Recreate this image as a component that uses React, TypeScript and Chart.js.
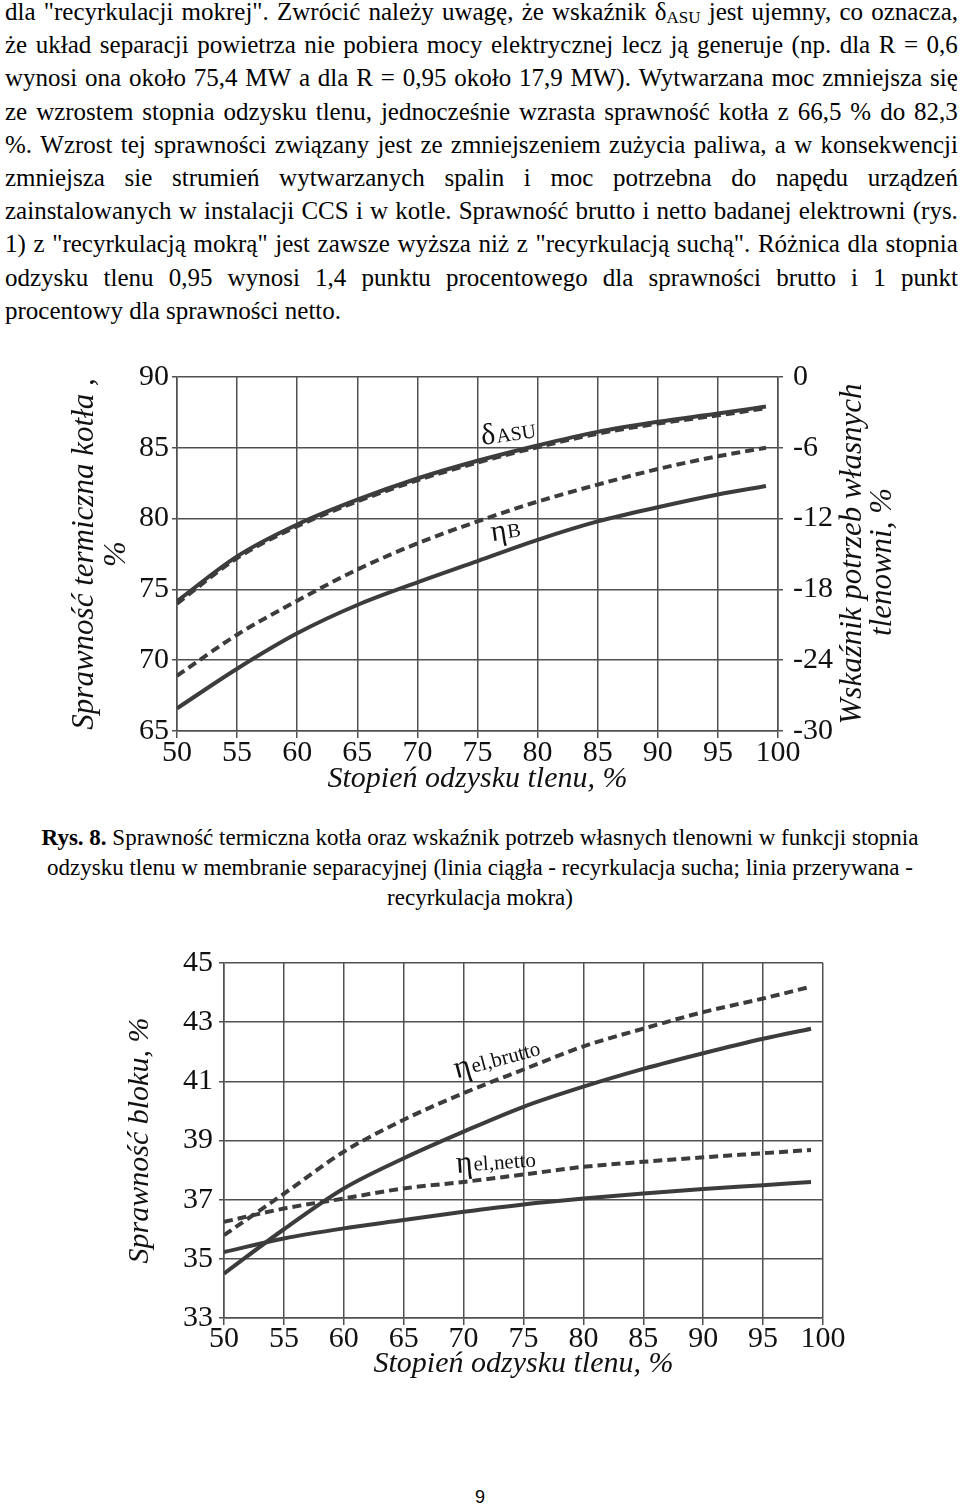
import React, { useEffect, useRef } from 'react';
import { Chart, registerables } from 'chart.js';

Chart.register(...registerables);

const SERIF = "'Liberation Serif', 'Times New Roman', serif";

// ---------- Chart 1 data (Rys. 8) ----------
const recovery = [50, 55, 60, 65, 70, 75, 80, 85, 90, 95, 99];
const xTickValues = [50, 55, 60, 65, 70, 75, 80, 85, 90, 95, 100];
const boilerTicks = [65, 70, 75, 80, 85, 90];
const asuTicks = [-30, -24, -18, -12, -6, 0];
const deltaAsuDry = [-19.0, -15.2, -12.5, -10.4, -8.6, -7.1, -5.8, -4.65, -3.8, -3.1, -2.5];
const deltaAsuWet = [-19.2, -15.35, -12.65, -10.55, -8.75, -7.25, -5.95, -4.8, -3.95, -3.25, -2.65];
const etaBDry = [66.6, 69.4, 71.9, 73.9, 75.5, 77.0, 78.5, 79.8, 80.8, 81.7, 82.3];
const etaBWet = [68.9, 71.8, 74.2, 76.4, 78.25, 79.8, 81.2, 82.4, 83.5, 84.4, 85.0];

// ---------- Chart 2 data ----------
const blockTicks = [33, 35, 37, 39, 41, 43, 45];
const bruttoWet = [35.8, 37.2, 38.62, 39.7, 40.6, 41.4, 42.18, 42.78, 43.34, 43.8, 44.2];
const bruttoDry = [34.5, 36.0, 37.38, 38.4, 39.3, 40.14, 40.82, 41.42, 41.95, 42.44, 42.78];
const nettoWet = [36.25, 36.7, 37.04, 37.38, 37.6, 37.85, 38.11, 38.28, 38.43, 38.57, 38.68];
const nettoDry = [35.23, 35.69, 36.03, 36.31, 36.59, 36.84, 37.04, 37.21, 37.36, 37.49, 37.6];

const bodyLines = [
  'dla "recyrkulacji mokrej". Zwrócić należy uwagę, że wskaźnik δ_ASU jest ujemny, co oznacza,',
  'że układ separacji powietrza nie pobiera mocy elektrycznej lecz ją generuje (np. dla R = 0,6',
  'wynosi ona około 75,4 MW a dla R = 0,95 około 17,9 MW). Wytwarzana moc zmniejsza się',
  'ze wzrostem stopnia odzysku tlenu, jednocześnie wzrasta sprawność kotła z 66,5 % do 82,3',
  '%. Wzrost tej sprawności związany jest ze zmniejszeniem zużycia paliwa, a w konsekwencji',
  'zmniejsza sie strumień wytwarzanych spalin i moc potrzebna do napędu urządzeń',
  'zainstalowanych w instalacji CCS i w kotle. Sprawność brutto i netto badanej elektrowni (rys.',
  '1) z "recyrkulacją mokrą" jest zawsze wyższa niż z "recyrkulacją suchą". Różnica dla stopnia',
  'odzysku tlenu 0,95 wynosi 1,4 punktu procentowego dla sprawności brutto i 1 punkt',
];
const bodyLastLine = 'procentowy dla sprawności netto.';

const captionLines = [
  'Sprawność termiczna kotła oraz wskaźnik potrzeb własnych tlenowni w funkcji stopnia',
  'odzysku tlenu w membranie separacyjnej (linia ciągła - recyrkulacja sucha; linia przerywana -',
  'recyrkulacja mokra)',
];

const LINE_COLOR = '#3c3c3c';
const GRID_COLOR = '#505050';

const pts = (ys: number[]) => recovery.map((x, i) => ({ x, y: ys[i] }));

const labelPlugin = {
  id: 'curveLabels',
  afterDatasetsDraw(chart: any, _args: any, opts: any) {
    const ctx = chart.ctx;
    (opts.items || []).forEach((it: any) => {
      const px = chart.scales.x.getPixelForValue(it.x);
      const py = chart.scales[it.axis || 'y'].getPixelForValue(it.y);
      ctx.save();
      ctx.translate(px, py);
      ctx.rotate((it.rot * Math.PI) / 180);
      ctx.fillStyle = '#111';
      ctx.textAlign = 'left';
      ctx.textBaseline = 'alphabetic';
      ctx.font = `${it.size}px ${SERIF}`;
      ctx.fillText(it.main, 0, 0);
      const w = ctx.measureText(it.main).width;
      ctx.font = `${it.subSize}px ${SERIF}`;
      ctx.fillText(it.sub, w + 1, it.subDy);
      ctx.restore();
    });
    const st = opts.sideTitle;
    if (st) {
      const sc = chart.scales[st.axis];
      const cy = (sc.top + sc.bottom) / 2;
      ctx.save();
      ctx.fillStyle = '#111';
      ctx.font = `italic ${st.size}px ${SERIF}`;
      ctx.textAlign = 'center';
      ctx.textBaseline = 'middle';
      st.lines.forEach((ln: string, i: number) => {
        ctx.save();
        ctx.translate(sc.left + st.offset + i * st.lineGap, cy + (st.dy ? st.dy[i] : 0));
        ctx.rotate(-Math.PI / 2);
        ctx.fillText(ln, 0, 0);
        ctx.restore();
      });
      ctx.restore();
    }
  },
};

const tickFont = { family: SERIF, size: 30 };
const titleFont = { family: SERIF, size: 31, style: 'italic' as const, lineHeight: 1.03 };

function xAxis(height: number, titlePadBottom: number, tickPad: number) {
  return {
    type: 'linear',
    min: 50,
    max: 100,
    afterBuildTicks: (s: any) => {
      s.ticks = xTickValues.map((v) => ({ value: v }));
    },
    afterFit: (s: any) => {
      s.height = height;
    },
    ticks: { font: tickFont, color: '#111', padding: tickPad, maxRotation: 0, autoSkip: false },
    grid: { color: GRID_COLOR, lineWidth: 1.5, tickLength: 7 },
    border: { color: GRID_COLOR, width: 1.5 },
    title: {
      display: true,
      text: 'Stopień odzysku tlenu, %',
      font: { family: SERIF, size: 30, style: 'italic' as const, lineHeight: 1.2 },
      color: '#111',
      padding: { top: 0, bottom: titlePadBottom },
    },
  };
}

function ChartOne() {
  const ref = useRef<HTMLCanvasElement>(null);
  useEffect(() => {
    const line = (data: number[], axis: string, dashed: boolean) => ({
      data: pts(data),
      yAxisID: axis,
      borderColor: LINE_COLOR,
      borderWidth: 4,
      borderDash: dashed ? [9, 5] : [],
      pointRadius: 0,
      fill: false,
      cubicInterpolationMode: 'monotone' as const,
    });
    const chart = new Chart(ref.current as HTMLCanvasElement, {
      type: 'line',
      data: {
        datasets: [
          line(deltaAsuDry, 'y1', false),
          line(deltaAsuWet, 'y1', true),
          line(etaBDry, 'y', false),
          line(etaBWet, 'y', true),
        ],
      },
      options: {
        responsive: false,
        animation: false,
        layout: { padding: { top: 37, left: 0, right: 0, bottom: 0 } },
        plugins: {
          legend: { display: false },
          tooltip: { enabled: false },
          curveLabels: {
            items: [
              { x: 75.4, y: 85.2, rot: -8, main: 'δ', sub: 'ASU', size: 30, subSize: 20, subDy: 0 },
              { x: 76.2, y: 78.4, rot: -8, main: 'η', sub: 'B', size: 30, subSize: 20, subDy: -1 },
            ],
            sideTitle: {
              axis: 'y1',
              lines: ['Wskaźnik potrzeb własnych', 'tlenowni, %'],
              size: 31,
              offset: 75,
              lineGap: 30,
              dy: [0, 8],
            },
          },
        } as any,
        scales: {
          x: xAxis(79, 13, -3) as any,
          y: {
            type: 'linear',
            position: 'left',
            min: 65,
            max: 90,
            afterBuildTicks: (s: any) => {
              s.ticks = boilerTicks.map((v) => ({ value: v }));
            },
            afterFit: (s: any) => {
              s.width = 177;
            },
            ticks: { font: tickFont, color: '#111', padding: 3 },
            grid: { color: GRID_COLOR, lineWidth: 1.5, tickLength: 5 },
            border: { color: GRID_COLOR, width: 1.5 },
            title: {
              display: true,
              text: ['Sprawność termiczna kotła ,', '%'],
              font: titleFont,
              color: '#111',
              padding: { top: 69, bottom: 0 },
            },
          },
          y1: {
            type: 'linear',
            position: 'right',
            min: -30,
            max: 0,
            afterBuildTicks: (s: any) => {
              s.ticks = asuTicks.map((v) => ({ value: v }));
            },
            afterFit: (s: any) => {
              s.width = 182;
            },
            ticks: { font: tickFont, color: '#111', padding: 10 },
            grid: { drawOnChartArea: false, color: GRID_COLOR, lineWidth: 1.5, tickLength: 5 },
            border: { color: GRID_COLOR, width: 1.5 },
          },
        } as any,
      },
      plugins: [labelPlugin],
    });
    return () => chart.destroy();
  }, []);
  return <canvas ref={ref} width={960} height={470} style={{ position: 'absolute', left: 0, top: 340, width: 960, height: 470 }} />;
}

function ChartTwo() {
  const ref = useRef<HTMLCanvasElement>(null);
  useEffect(() => {
    const line = (data: number[], dashed: boolean) => ({
      data: pts(data),
      borderColor: LINE_COLOR,
      borderWidth: 4,
      borderDash: dashed ? [9, 5] : [],
      pointRadius: 0,
      fill: false,
      cubicInterpolationMode: 'monotone' as const,
    });
    const chart = new Chart(ref.current as HTMLCanvasElement, {
      type: 'line',
      data: {
        datasets: [
          line(bruttoDry, false),
          line(bruttoWet, true),
          line(nettoDry, false),
          line(nettoWet, true),
        ],
      },
      options: {
        responsive: false,
        animation: false,
        layout: { padding: { top: 33, left: 0, right: 137, bottom: 0 } },
        plugins: {
          legend: { display: false },
          tooltip: { enabled: false },
          curveLabels: {
            items: [
              { x: 69.4, y: 41.1, rot: -15, main: 'η', sub: 'el,brutto', size: 32, subSize: 21, subDy: -1 },
              { x: 69.4, y: 37.9, rot: -4, main: 'η', sub: 'el,netto', size: 32, subSize: 21, subDy: -1 },
            ],
          },
        } as any,
        scales: {
          x: xAxis(72, 8, -4) as any,
          y: {
            type: 'linear',
            position: 'left',
            min: 33,
            max: 45,
            afterBuildTicks: (s: any) => {
              s.ticks = blockTicks.map((v) => ({ value: v }));
            },
            afterFit: (s: any) => {
              s.width = 224;
            },
            ticks: { font: tickFont, color: '#111', padding: 6 },
            grid: { color: GRID_COLOR, lineWidth: 1.5, tickLength: 5 },
            border: { color: GRID_COLOR, width: 1.5 },
            title: {
              display: true,
              text: 'Sprawność bloku, %',
              font: { family: SERIF, size: 30, style: 'italic' as const, lineHeight: 1.2 },
              color: '#111',
              padding: { top: 122, bottom: 0 },
            },
          },
        } as any,
      },
      plugins: [labelPlugin],
    });
    return () => chart.destroy();
  }, []);
  return <canvas ref={ref} width={960} height={460} style={{ position: 'absolute', left: 0, top: 930, width: 960, height: 460 }} />;
}

function renderWord(w: string, key: number) {
  if (w.includes('_')) {
    const [a, b] = w.split('_');
    return (
      <span key={key}>
        {a}
        <sub style={{ fontSize: '0.68em', verticalAlign: '-0.15em', lineHeight: 0 }}>{b}</sub>
      </span>
    );
  }
  return <span key={key}>{w}</span>;
}

const BODY_FONT = 25;
const BODY_LH = 33.2;

export default function App() {
  return (
    <div
      style={{
        position: 'absolute',
        left: 0,
        top: 0,
        width: 960,
        height: 1509,
        background: '#fff',
        fontFamily: SERIF,
        color: '#000',
        overflow: 'hidden',
      }}
    >
      {bodyLines.map((ln, i) => (
        <div
          key={i}
          style={{
            position: 'absolute',
            left: 5,
            width: 953,
            top: -5 + i * BODY_LH,
            height: BODY_LH,
            lineHeight: `${BODY_LH}px`,
            fontSize: BODY_FONT,
            display: 'flex',
            justifyContent: 'space-between',
            whiteSpace: 'nowrap',
          }}
        >
          {ln.split(' ').map((w, j) => renderWord(w, j))}
        </div>
      ))}
      <div
        style={{
          position: 'absolute',
          left: 5,
          top: -5 + bodyLines.length * BODY_LH,
          height: BODY_LH,
          lineHeight: `${BODY_LH}px`,
          fontSize: BODY_FONT,
          whiteSpace: 'nowrap',
        }}
      >
        {bodyLastLine}
      </div>

      <ChartOne />

      {captionLines.map((ln, i) => (
        <div
          key={i}
          style={{
            position: 'absolute',
            left: 0,
            width: 960,
            top: 823 + i * 30,
            height: 30,
            lineHeight: '30px',
            fontSize: 23,
            textAlign: 'center',
            whiteSpace: 'nowrap',
          }}
        >
          {i === 0 ? <b>Rys. 8. </b> : null}
          {ln}
        </div>
      ))}

      <ChartTwo />

      <div
        style={{
          position: 'absolute',
          left: 0,
          width: 960,
          top: 1486,
          textAlign: 'center',
          fontFamily: "'Liberation Sans', Arial, sans-serif",
          fontSize: 18,
          lineHeight: '22px',
        }}
      >
        9
      </div>
    </div>
  );
}
